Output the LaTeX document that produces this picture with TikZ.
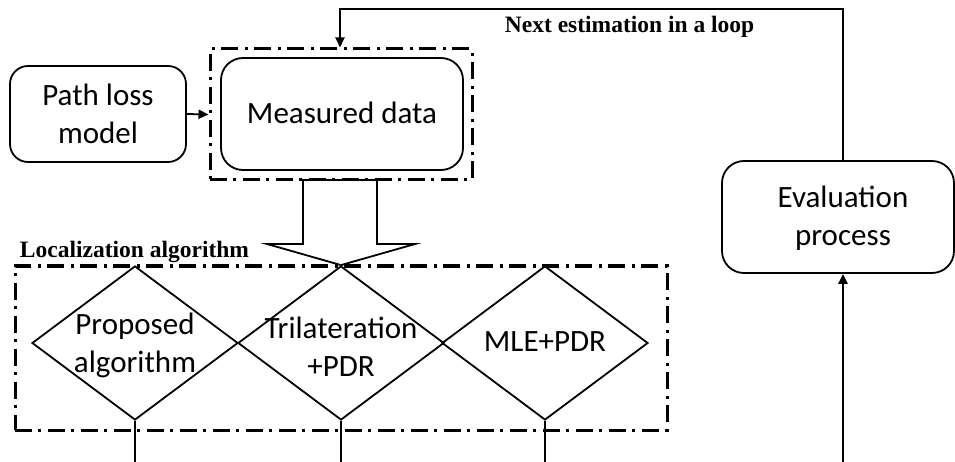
\documentclass[tikz,border=0pt]{standalone}
\usepackage{fontspec}
\setmainfont{Carlito}
\newfontfamily\labelfont{Liberation Serif}
\usetikzlibrary{shapes.geometric,arrows.meta}
\begin{document}
\begin{tikzpicture}[x=1pt,y=-1pt,
  line width=1.8pt,
  box/.style={draw,rounded corners=18pt,line width=1.8pt,inner sep=0pt},
  boxtext/.style={font=\fontsize{31}{38}\selectfont,align=center,inner sep=0pt},
  dia/.style={draw,diamond,minimum width=206pt,minimum height=154pt,inner sep=0pt,line width=1.8pt},
  frame/.style={draw,line width=3pt,dash pattern=on 17pt off 6pt on 3pt off 7pt},
  tag/.style={font=\labelfont\bfseries\fontsize{23.5}{28}\selectfont,inner sep=0pt,anchor=base west},
  tip/.style={-{Triangle[length=10pt,width=9pt]}}
]
\useasboundingbox (0,0) rectangle (955,462);

% source boxes
\node[box,minimum width=176pt,minimum height=96pt] (plm) at (98,114) {};
\node[boxtext] (plmt) at (plm.center) {Path loss\\model};
\node[box,minimum width=242pt,minimum height=112pt,rounded corners=22pt] (md) at (342,114) {};
\node[boxtext] (mdt) at (342,113) {Measured data};

% dash-dot frame round the measured data
\node[frame,minimum width=262pt,minimum height=131pt,inner sep=0pt] (mdf) at (341,114.5) {};

% evaluation box
\node[box,minimum width=232pt,minimum height=112pt,rounded corners=22pt] (ev) at (838,217) {};
\node[boxtext] (evt) at (843,218) {Evaluation\\process};

% localization frame
\node[frame,minimum width=652pt,minimum height=164pt,inner sep=0pt] (lf) at (341,348) {};
\node[tag] (lft) at (19,258) {Localization algorithm};

% three algorithm diamonds
\node[dia] (d1) at (135,343) {};
\node[dia] (d2) at (341,343) {};
\node[dia] (d3) at (545,343) {};
\node[boxtext] (t1) at (135,345) {Proposed\\algorithm};
\node[boxtext] (t2) at (341,347) {Trilateration\\+PDR};
\node[boxtext] (t3) at (545,342) {MLE+PDR};

% hollow block arrow from the data to the algorithms
\coordinate (ha1) at (303,180);
\coordinate (ha2) at (377,180);
\draw[line width=1.8pt,fill=white] (ha1) -- (303,244) -- (267,244) -- (d2.north)
  -- (415,244) -- (377,244) -- (ha2) -- cycle;

% path loss model feeds the data frame
\draw[tip] (plm.east) -- (mdf.west);

% feedback loop
\coordinate (lpa) at (843,9);
\coordinate (lpb) at (340,9);
\draw[tip] (ev.north -| lpa) -- (lpa) -- (lpb) -- (lpb |- mdf.north);
\node[tag] (lpt) at (504,33) {Next estimation in a loop};

% outputs of the algorithms and input of the evaluation
\coordinate (o1) at (135,462);
\coordinate (o2) at (341,462);
\coordinate (o3) at (545,462);
\coordinate (ei) at (843,462);
\draw (d1.south) -- (o1);
\draw (d2.south) -- (o2);
\draw (d3.south) -- (o3);
\draw[tip,line width=2.6pt] (ei) -- (ev.south -| ei);
\end{tikzpicture}
\end{document}
